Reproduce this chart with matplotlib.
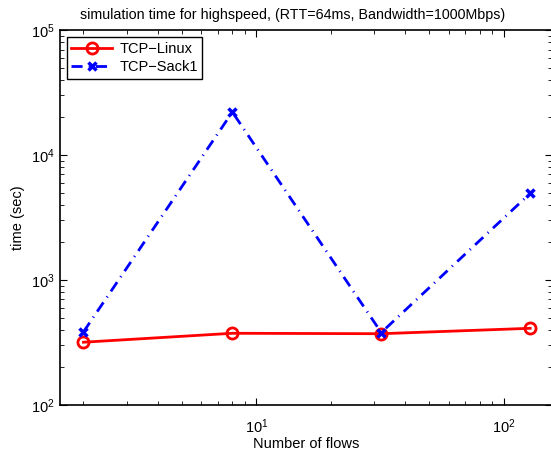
import matplotlib
matplotlib.use('Agg')
import matplotlib.pyplot as plt
from matplotlib.ticker import LogLocator, NullFormatter

plt.rcParams['font.family'] = ['Liberation Sans', 'DejaVu Sans']
plt.rcParams['font.size'] = 10.5

# 数据
flows = [2, 8, 32, 128]
linux_time = [318, 375, 372, 411]
sack1_time = [385, 22100, 380, 4940]

fig = plt.figure(figsize=(5.51, 4.5), dpi=100)
ax = fig.add_axes([0.108, 0.1, 0.894, 0.833])

ax.plot(flows, linux_time, color='red', linestyle='-', linewidth=2,
        marker='o', markersize=8, markerfacecolor='none',
        markeredgewidth=2, label='TCP\u2212Linux')
ax.plot(flows, sack1_time, color='blue', linestyle=(0, (4, 2.2, 0.4, 2.2)),
        linewidth=2, marker='x', markersize=6, markeredgewidth=2.5,
        label='TCP\u2212Sack1')

ax.set_xscale('log')
ax.set_yscale('log')
ax.set_xlim(1.6, 157)
ax.set_ylim(1e2, 1e5)

ax.yaxis.set_major_locator(LogLocator(base=10, numticks=10))
ax.yaxis.set_minor_locator(LogLocator(base=10, subs=range(2, 10), numticks=20))
ax.yaxis.set_minor_formatter(NullFormatter())
ax.xaxis.set_minor_formatter(NullFormatter())

ax.tick_params(which='both', direction='in', top=True, right=True)
ax.tick_params(which='major', length=5, width=0.8)
ax.tick_params(which='minor', length=3, width=0.6)
ax.tick_params(axis='x', which='major', pad=9)
for s in ax.spines.values():
    s.set_linewidth(1.2)

ax.set_xlabel('Number of flows', labelpad=1)
ax.set_ylabel('time (sec)')
ax.set_title('simulation time for highspeed, (RTT=64ms, Bandwidth=1000Mbps)',
             fontsize=10.3, pad=8, x=0.474)

leg = ax.legend(loc='upper left', fancybox=False, framealpha=1,
                edgecolor='black', handlelength=2.8, borderaxespad=0.5,
                borderpad=0.3, labelspacing=0.3, handletextpad=0.5)
leg.get_frame().set_linewidth(1.0)

fig.savefig('out.png', dpi=100)
